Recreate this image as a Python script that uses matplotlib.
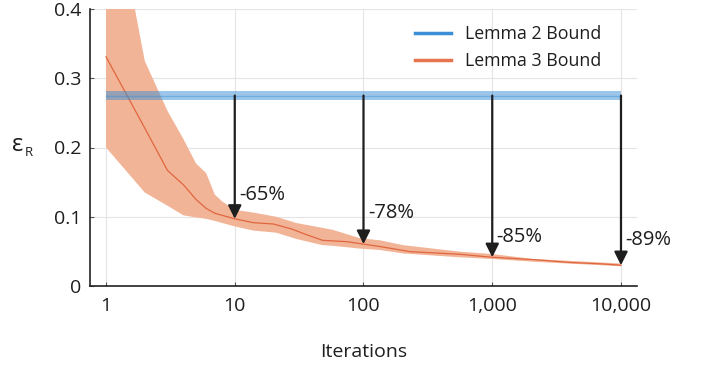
import matplotlib
matplotlib.use('Agg')
import matplotlib.pyplot as plt
import numpy as np

plt.rcParams['font.family'] = ['Open Sans', 'DejaVu Sans']

# Lemma 2 bound (constant) and its spread
lemma2_value = 0.275
lemma2_low = 0.268
lemma2_high = 0.281

# Lemma 3 bound vs iterations: mean curve
iters_mean = [1, 2, 3, 4, 5, 6, 7, 8, 10, 14, 20, 28, 35, 48, 74, 100, 134,
              230, 560, 1000, 2340, 4000, 7000, 10000]
eps_mean = [0.331, 0.228, 0.167, 0.146, 0.125, 0.112, 0.105, 0.102, 0.097,
            0.0914, 0.0895, 0.082, 0.075, 0.066, 0.064, 0.0605, 0.057,
            0.0496, 0.0458, 0.0415, 0.0375, 0.034, 0.032, 0.030]

# spread of the Lemma 3 bound
iters_band = [1, 2, 3, 4, 5, 6, 7, 8, 10, 14, 21, 30, 48, 58, 94, 134, 203,
              560, 1000, 2100, 10000]
eps_upper = [0.62, 0.325, 0.253, 0.212, 0.177, 0.163, 0.132, 0.122, 0.110,
             0.106, 0.100, 0.091, 0.084, 0.081, 0.069, 0.066, 0.059,
             0.0496, 0.0462, 0.039, 0.0325]
eps_lower = [0.200, 0.135, 0.116, 0.102, 0.099, 0.097, 0.094, 0.091, 0.086,
             0.080, 0.077, 0.068, 0.059, 0.058, 0.054, 0.052, 0.047,
             0.0414, 0.039, 0.035, 0.0285]

# where the reduction is marked
mark_iters = [10, 100, 1000, 10000]
label_dy = [24, 31, 20, 25]  # text lift above arrow tip, px

xticks = [1, 10, 100, 1000, 10000]
xtick_labels = ['1', '10', '100', '1,000', '10,000']
yticks = [0, 0.1, 0.2, 0.3, 0.4]
ytick_labels = ['0', '0.1', '0.2', '0.3', '0.4']

blue = '#3b8fd4'
orange = '#e8744f'
orange_fill = '#f2b497'
ink = '#1e1e1e'

fig = plt.figure(figsize=(7.06, 3.70), dpi=100)
ax = fig.add_axes([90 / 706, 1 - 286 / 370, 547 / 706, 277 / 370])

ax.set_xscale('log')
ax.set_xlim(0.751, 13316)
ax.set_ylim(0, 0.4)

ax.fill_between(iters_band, eps_lower, eps_upper, color=orange_fill,
                lw=0, zorder=2)
ax.plot(iters_mean, eps_mean, color='#e0663f', lw=0.9, zorder=3)

ax.fill_between([1, 10000], [lemma2_low] * 2, [lemma2_high] * 2,
                color=blue, alpha=0.5, lw=0, zorder=4)
ax.plot([1, 10000], [lemma2_value] * 2, color=blue, alpha=0.45, lw=1.0,
        zorder=4)

# legend handles
ax.plot([], [], color=blue, lw=2.5, label='Lemma 2 Bound')
ax.plot([], [], color=orange, lw=2.5, label='Lemma 3 Bound')
leg = ax.legend(loc='upper left', bbox_to_anchor=(0.565, 1.0), frameon=False,
                fontsize=12.8, handlelength=2.05, handletextpad=0.75,
                labelspacing=0.5)
for t in leg.get_texts():
    t.set_color(ink)

for it, dy in zip(mark_iters, label_dy):
    m = float(np.interp(np.log10(it), np.log10(iters_mean), eps_mean))
    ax.annotate('', xy=(it, m), xytext=(it, lemma2_value),
                arrowprops=dict(arrowstyle='-|>', color=ink, lw=1.6,
                                mutation_scale=20, shrinkA=0, shrinkB=0),
                zorder=6)
    pct = round((1 - m / lemma2_value) * 100)
    ax.annotate('-%d%%' % pct, xy=(it, m), xytext=(4.5, dy),
                textcoords='offset pixels', ha='left', va='center',
                fontsize=14.5, color=ink, zorder=7)

ax.set_xticks(xticks)
ax.set_xticklabels(xtick_labels)
ax.set_xticks([], minor=True)
ax.set_yticks(yticks)
ax.set_yticklabels(ytick_labels)
ax.tick_params(direction='in', length=3, width=0.8, color='#555555',
               labelsize=14, labelcolor=ink)
ax.tick_params(axis='x', pad=8)
ax.tick_params(axis='y', pad=6)

ax.grid(True, color='#e4e4e4', lw=0.8, zorder=0)
ax.set_axisbelow(True)
for s in ['top', 'right']:
    ax.spines[s].set_visible(False)
for s in ['left', 'bottom']:
    ax.spines[s].set_color('#222222')
    ax.spines[s].set_linewidth(1.2)

ax.set_xlabel('Iterations', fontsize=14, color=ink, labelpad=20)

# y label: epsilon with subscript R
fig.text(12 / 706, 1 - 145 / 370, 'ε', fontsize=17, color=ink,
         ha='left', va='center')
fig.text(25 / 706, 1 - 153 / 370, 'R', fontsize=9.5, color=ink,
         ha='left', va='center')

fig.savefig('out.png', dpi=100)
